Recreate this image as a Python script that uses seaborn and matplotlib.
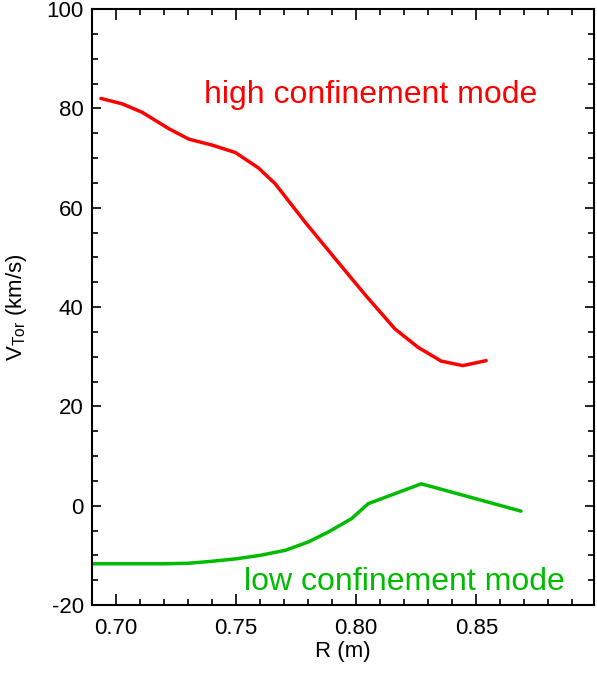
import numpy as np
import pandas as pd
import matplotlib
matplotlib.use("Agg")
import matplotlib.pyplot as plt
from matplotlib.ticker import MultipleLocator, FormatStrFormatter
import seaborn as sns

# ---- data ----
high_R = [0.6937, 0.7026, 0.7109, 0.7220, 0.7303, 0.7400, 0.7497, 0.7593, 0.7663,
          0.7787, 0.7925, 0.8040, 0.8161, 0.8257, 0.8354, 0.8444, 0.8541]
high_V = [82.0, 80.9, 79.2, 75.9, 73.8, 72.6, 71.1, 68.0, 64.8,
          57.1, 49.0, 42.3, 35.6, 31.9, 29.1, 28.2, 29.2]

low_R = [0.6900, 0.7000, 0.7100, 0.7200, 0.7300, 0.7400, 0.7500, 0.7600, 0.7704,
         0.7801, 0.7884, 0.7981, 0.8050, 0.8271, 0.8686]
low_V = [-11.7, -11.7, -11.7, -11.7, -11.6, -11.2, -10.7, -10.0, -9.0,
         -7.3, -5.3, -2.6, 0.4, 4.4, -1.1]

x_ticks = [0.70, 0.75, 0.80, 0.85]
y_ticks = [-20, 0, 20, 40, 60, 80, 100]
label_high = "high confinement mode"
label_low = "low confinement mode"

RED = "#ff0000"
GREEN = "#00bb00"

sns.set_theme(style="ticks")
plt.rcParams['font.family'] = ['Liberation Sans', 'DejaVu Sans']
plt.rcParams['mathtext.fontset'] = 'custom'
plt.rcParams['mathtext.rm'] = 'Liberation Sans'
plt.rcParams['axes.unicode_minus'] = False

fig = plt.figure(figsize=(5.97, 6.73), dpi=100)
ax = fig.add_axes([92/597, 1-605/673, (594-92)/597, (605-9)/673])

df_h = pd.DataFrame({"R": high_R, "V": high_V})
df_l = pd.DataFrame({"R": low_R, "V": low_V})
sns.lineplot(data=df_h, x="R", y="V", ax=ax, color=RED, lw=2.5, sort=False, estimator=None)
sns.lineplot(data=df_l, x="R", y="V", ax=ax, color=GREEN, lw=2.5, sort=False, estimator=None)

ax.set_xlim(0.69, 0.899)
ax.set_ylim(-20, 100)
ax.set_xticks(x_ticks)
ax.set_yticks(y_ticks)
ax.xaxis.set_major_formatter(FormatStrFormatter('%.2f'))
ax.xaxis.set_minor_locator(MultipleLocator(0.01))
ax.yaxis.set_minor_locator(MultipleLocator(5))

ax.tick_params(axis='both', which='both', direction='in', top=True, right=True,
               width=1.2, color='black', labelsize=16, labelcolor='black')
ax.tick_params(axis='x', which='major', length=8, pad=9)
ax.tick_params(axis='x', which='minor', length=4.5)
ax.tick_params(axis='y', which='major', length=6.5, pad=6)
ax.tick_params(axis='y', which='minor', length=4.5)
for s in ax.spines.values():
    s.set_linewidth(1.5)
    s.set_color('black')

ax.set_xlabel("R (m)", fontsize=16, labelpad=2, color='black')
ax.set_ylabel(r"V$_{\mathrm{Tor}}$ (km/s)", fontsize=16, color='black')
ax.yaxis.set_label_coords(-0.125, 0.5)

ax.text(0.8058, 81.1, label_high, color=RED, fontsize=23, ha='center', va='baseline')
ax.text(0.8200, -17.0, label_low, color=GREEN, fontsize=23, ha='center', va='baseline')

fig.savefig("out.png", dpi=100)
